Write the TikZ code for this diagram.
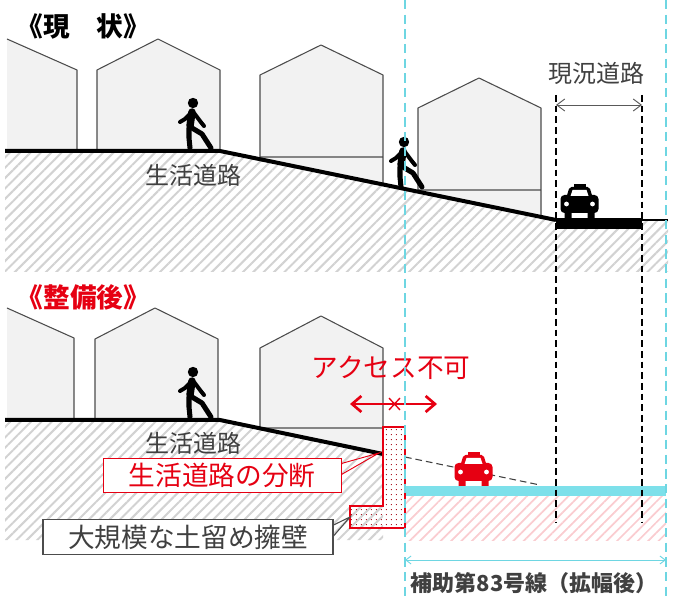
\documentclass[tikz,border=0pt]{standalone}
\usepackage{fontspec}
\newfontfamily\jp{Noto Sans CJK JP}
\usetikzlibrary{arrows.meta,patterns.meta}
\definecolor{cred}{RGB}{230,0,18}
\definecolor{guide}{RGB}{110,214,226}
\definecolor{road}{RGB}{125,224,234}
\definecolor{txt}{RGB}{64,64,64}

\tikzset{
  % pedestrian, origin between the feet
  walker/.pic={
    \fill (1,-47) circle (5.2);
    \draw[line width=5.6pt, line cap=round] (0,-38) -- (-2,-24);
    \draw[line width=3pt, line cap=round, line join=round] (-1,-37) -- (-7,-31) -- (-12,-28);
    \draw[line width=3pt, line cap=round, line join=round] (2,-37) -- (8,-29) -- (12,-24);
    \draw[line width=3.8pt, line cap=round, line join=round] (-3,-22) -- (-3,-12) -- (-2,-2);
    \draw[line width=3.8pt, line cap=round, line join=round] (0,-22) -- (10,-16) -- (19,-2);
  },
  % taxi seen from the front, origin under the wheels
  taxi/.pic={
    \fill (-15,0) rectangle (-8,-7) (8,0) rectangle (15,-7);
    \fill[rounded corners=3pt] (-19,-5) rectangle (19,-23);
    \fill[rounded corners=1.5pt] (-13,-21) -- (-10,-31) -- (10,-31) -- (13,-21) -- cycle;
    \fill[white] (-9,-22) -- (-7,-28) -- (7,-28) -- (9,-22) -- cycle;
    \fill (-6,-30) rectangle (6,-34);
    \fill[white] (-13,-14) circle (2.4) (13,-14) circle (2.4);
  }
}

\begin{document}
\begin{tikzpicture}[
  x=0.75pt, y=-0.75pt,
  house/.style={fill=gray!10, draw=black!70, line width=0.8pt, line join=round},
  base/.style={fill=gray!45},
  gnd/.style={line width=3pt, line join=round},
  hatch/.style={pattern={Lines[angle=45,distance=5.5pt,line width=1.5pt]}, pattern color=gray!35},
  pinkhatch/.style={pattern={Lines[angle=45,distance=5.5pt,line width=1.3pt]}, pattern color=cred!20},
  cyanline/.style={guide, line width=1.1pt, dash pattern=on 7pt off 4pt},
  edge/.style={black, line width=0.8pt, dash pattern=on 5pt off 3pt},
  lab/.style={font=\jp\fontsize{18}{18}\selectfont, text=txt},
  redlab/.style={font=\jp\fontsize{20}{20}\selectfont, text=cred},
  title/.style={font=\jp\bfseries\fontsize{20}{20}\selectfont, anchor=west},
  callout/.style={fill=white, minimum height=26pt, inner sep=0pt}
]
\useasboundingbox (0,0) rectangle (675,598);

%% ---------- present state ----------
\fill[white, hatch] (5,151) -- (220,151) -- (556,220) -- (668,220) -- (668,272) -- (5,272) -- cycle;
\fill[base] (260,157) -- (383,157) -- (383,184.5) -- (260,159.2) -- cycle;
\fill[base] (418,190) -- (541,190) -- (541,216.9) -- (418,191.7) -- cycle;
\fill[gray!10] (7,151) -- (7,39) -- (77,70) -- (77,151) -- cycle;
\draw[house, fill=none] (7,39) -- (77,70) -- (77,151);
\draw[house] (97,151) -- (97,70) -- (158,39) -- (220,70) -- (220,151);
\draw[house] (260,157) -- (260,75) -- (321,45) -- (383,75) -- (383,184) (260,157) -- (383,157);
\draw[house] (418,190) -- (418,108) -- (479,78) -- (541,108) -- (541,217) (418,190) -- (541,190);
\draw[gnd] (5,151) -- (220,151) -- (556,220);
\fill (556,218) rectangle (642,229);
\draw[line width=2pt] (642,220) -- (668,220);

\pic at (192,150) {walker};
\pic at (403,189) {walker};
\pic at (579.5,218) {taxi};

\node[title] (now) at (12,26) {《現　状》};
\node[lab] (lane1) at (193,175) {生活道路};
\node[lab] (oldroad) at (596,73) {現況道路};
\coordinate (oldL) at (556,105);
\coordinate (oldR) at (642,105);
\draw[{Straight Barb[length=6pt,width=9pt]}-{Straight Barb[length=6pt,width=9pt]}, gray!70!black, line width=0.7pt] (oldL) -- (oldR);

%% ---------- after improvement ----------
\fill[white, hatch] (5,420) -- (220,420) -- (383,454) -- (383,540) -- (5,540) -- cycle;
\fill[white, pinkhatch] (405,496) rectangle (666,540);
\fill[base] (260,428) -- (383,428) -- (383,454) -- (260,428.3) -- cycle;
\fill[gray!10] (7,420) -- (7,308) -- (74,338) -- (74,420) -- cycle;
\draw[house, fill=none] (7,308) -- (74,338) -- (74,420);
\draw[house] (95,420) -- (95,339) -- (155,308) -- (218,339) -- (218,420);
\draw[house] (260,428) -- (260,348) -- (321,316) -- (383,348) -- (383,454) (260,428) -- (383,428);
\draw[gnd] (5,420) -- (220,420) -- (383,454);
\draw[black!75, line width=0.8pt, dash pattern=on 5pt off 3pt] (405,457) -- (540,485);
\fill[road] (405,486) rectangle (666,496);

% retaining wall
\path[fill=red!6, pattern={Dots[distance=4pt,radius=0.5pt]}, pattern color=cred!70!black]
  (383,427) -- (405,427) -- (405,528) -- (350,528) -- (350,506) -- (383,506) -- cycle;
\draw[cred, line width=2pt, line join=miter]
  (383,427) -- (405,427) -- (405,528) -- (350,528) -- (350,506) -- (383,506) -- cycle;

\pic at (192,419) {walker};
\pic[cred] at (473.5,486) {taxi};

\node[title, text=cred] (after) at (12,297) {《整備後》};
\node[lab] (lane2) at (193,443) {生活道路};
\node[redlab] (noaccess) at (391,368) {アクセス不可};
\coordinate (accL) at (350,404);
\coordinate (accR) at (437,404);
\draw[{Straight Barb[length=7pt,width=12pt]}-{Straight Barb[length=7pt,width=12pt]}, cred, line width=2pt] (accL) -- (accR);
\draw[cred, line width=1pt] (389,398) -- (400,410) (389,410) -- (400,398);

\node[callout, draw=cred, line width=0.7pt, minimum width=178.5pt, redlab] (cut) at (222,475.5) {生活道路の分断};
\coordinate (cuttip) at (379,453);
\draw[cred, line width=0.7pt] (cut.east) ++(0,-12) -- (cuttip) -- ([shift={(0,-1)}]cut.east);

\node[callout, draw=black!70, line width=0.8pt, minimum width=217.5pt, redlab, text=txt] (wall) at (188,537) {大規模な土留め擁壁};
\coordinate (walltip) at (350,517);
\draw[black!70, line width=0.8pt] (wall.east) ++(0,-12) -- (walltip) -- ([shift={(0,-1)}]wall.east);

%% ---------- guide lines and widths ----------
\draw[edge] (556,95) -- (556,523);
\draw[edge] (642,95) -- (642,523);
\draw[cyanline] (405,0) -- (405,598);
\draw[cyanline] (666,0) -- (666,598);
\coordinate (newL) at (405,560);
\coordinate (newR) at (666,560);
\draw[{Straight Barb[length=4pt,width=6pt]}-{Straight Barb[length=4pt,width=6pt]}, guide, line width=0.7pt] (newL) -- (newR);
\node[font=\jp\bfseries\fontsize{16.5}{16.5}\selectfont, text=txt] (route) at (534,583) {補助第83号線（拡幅後）};
\end{tikzpicture}
\end{document}
